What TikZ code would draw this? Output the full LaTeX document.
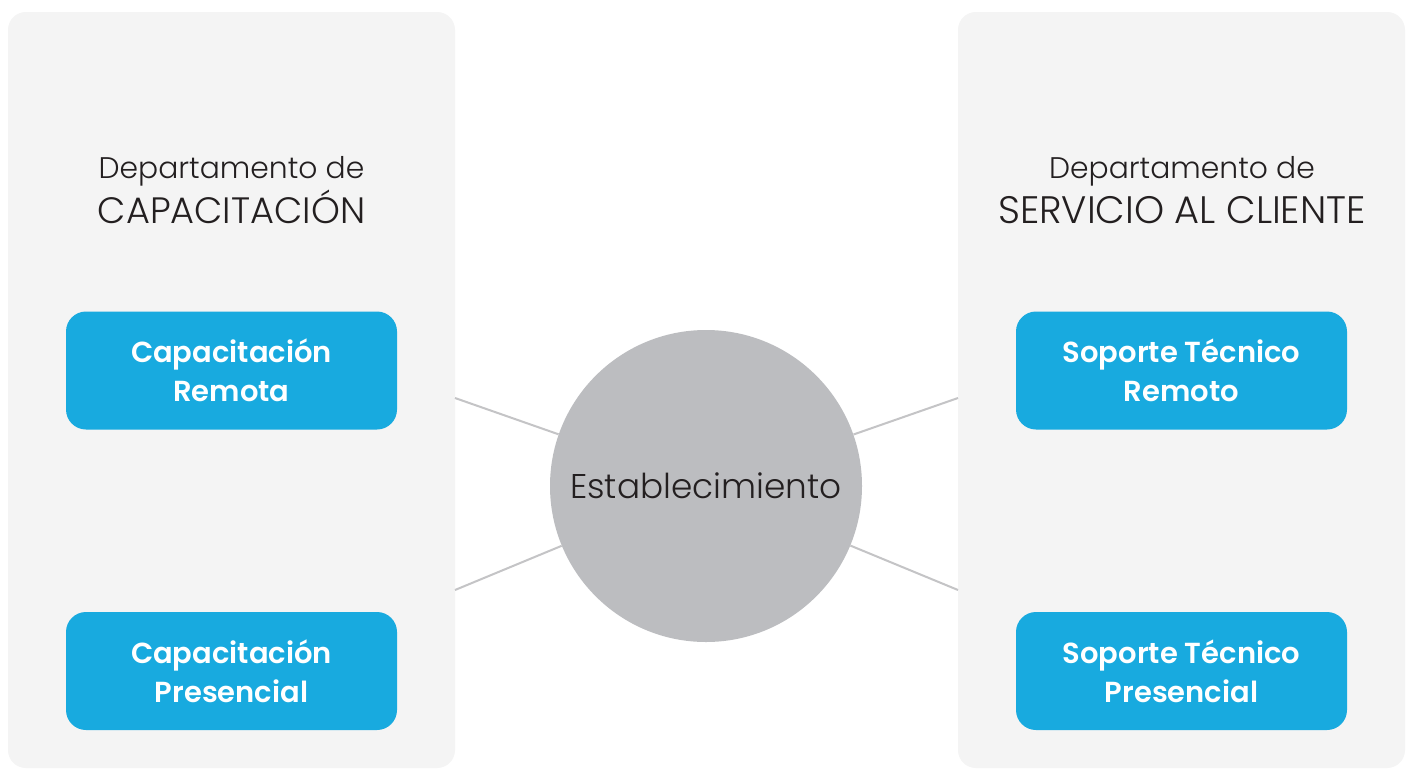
\documentclass[tikz,border=0pt]{standalone}
\usepackage{fontspec}
\setmainfont{Poppins}
\IfFontExistsTF{Poppins SemiBold}{\newfontfamily\boxfont{Poppins SemiBold}}{\newfontfamily\boxfont{Poppins}[FakeBold=1.5]}
\IfFontExistsTF{Poppins Light}{\newfontfamily\titlefont{Poppins Light}}{\newfontfamily\titlefont{Poppins}}
\definecolor{panelgray}{HTML}{F4F4F4}
\definecolor{boxblue}{HTML}{18AADF}
\definecolor{circgray}{HTML}{BCBDC0}
\definecolor{linegray}{HTML}{C4C4C6}
\definecolor{txtdark}{HTML}{231F20}
\tikzset{
  panelbox/.style={fill=panelgray, rounded corners=18pt},
  bluebox/.style={rectangle, fill=boxblue, rounded corners=20pt, minimum width=331pt, minimum height=118pt, inner sep=0pt, align=center, text=white, font=\boxfont\fontsize{29}{39}\selectfont},
  hub/.style={circle, fill=circgray, minimum size=312pt, inner sep=0pt, text=txtdark, font=\titlefont\fontsize{34.3}{40}\selectfont},
  titleA/.style={text=txtdark, inner sep=0pt, anchor=base, font=\titlefont\fontsize{29.8}{34}\selectfont},
  titleB/.style={text=txtdark, inner sep=0pt, anchor=base, font=\titlefont\fontsize{36.7}{40}\selectfont},
  titleC/.style={text=txtdark, inner sep=0pt, anchor=base, font=\titlefont\fontsize{38.3}{40}\selectfont},
  conn/.style={draw=linegray, line width=2pt},
}
\begin{document}
\begin{tikzpicture}[x=1pt,y=-1pt]
\useasboundingbox (0,0) rectangle (1408,769);
\fill[white] (0,0) rectangle (1408,769);
\fill[panelbox] (8,12) rectangle (455,768);
\fill[panelbox] (958,12) rectangle (1405,768);
\coordinate (l1) at (455,398);
\coordinate (l2) at (455,590);
\coordinate (r1) at (958,398);
\coordinate (r2) at (958,590);
\node[hub] (est) at (706,486) {Establecimiento};
\draw[conn] (l1) -- (est);
\draw[conn] (l2) -- (est);
\draw[conn] (r1) -- (est);
\draw[conn] (r2) -- (est);
\node[titleA] (lt1) at (231.5,178) {Departamento de};
\node[titleB] (lt2) at (231.5,223) {CAPACITACIÓN};
\node[titleA] (rt1) at (1182,178) {Departamento de};
\node[titleC] (rt2) at (1182,223) {SERVICIO AL CLIENTE};
\node[bluebox] (cr) at (231.5,370.5) {Capacitación\\Remota};
\node[bluebox] (cp) at (231.5,671) {Capacitación\\Presencial};
\node[bluebox] (sr) at (1181.5,370.5) {Soporte Técnico\\Remoto};
\node[bluebox] (sp) at (1181.5,671) {Soporte Técnico\\Presencial};
\end{tikzpicture}
\end{document}
